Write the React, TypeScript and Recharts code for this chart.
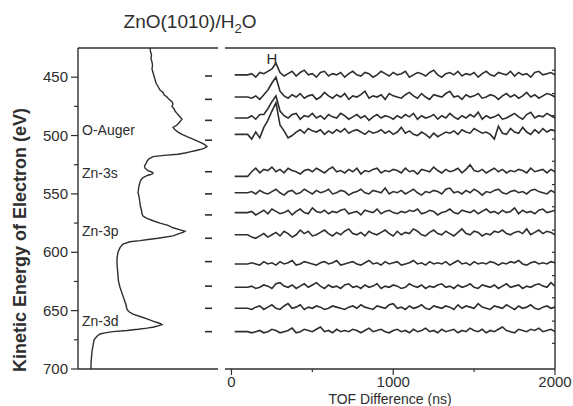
import React from 'react';
import { LineChart, Line, XAxis, YAxis, ReferenceLine, ReferenceDot } from 'recharts';

const INK = '#2e2e2e';
const FONT = '"Liberation Sans", Arial, sans-serif';

// Auger electron spectrum: kinetic energy (eV) vs. intensity (arb. units)
const SPEC_E = [
  425, 428, 431, 434, 437, 440, 443, 446, 449, 452,
  455, 458, 461, 463, 465, 467, 469, 471, 473, 475,
  477, 479, 481, 483, 485, 486, 487, 489, 491, 493,
  495, 497, 499, 501, 503, 505, 507, 508, 509.5, 511,
  512, 513, 514, 515, 516, 517, 518, 520, 522, 524,
  526, 528, 530, 531, 532, 533, 534, 536, 538, 540,
  543, 546, 549, 552, 555, 558, 561, 564, 567, 569,
  571, 573, 575, 577, 579, 581, 582, 583, 584, 586,
  588, 589, 590, 591, 593, 596, 600, 605, 610, 615,
  620, 625, 630, 635, 640, 645, 649, 651, 653, 655,
  657, 659, 661, 662, 663, 664, 665, 666, 667, 668,
  669, 670, 672, 675, 680, 685, 690, 695, 700,
];
const SPEC_I = [
  72, 72.5, 73.5, 73, 74, 74.5, 74, 75, 76, 77,
  78, 80, 82, 85, 86, 89, 91, 94, 95, 94,
  96, 97, 99, 101, 103, 104, 103, 101, 99, 95,
  97, 100, 104, 109, 115, 120, 125, 127, 129, 126,
  122, 117, 112, 107, 100, 86, 75, 71, 69, 68,
  66.5, 67, 70, 73, 75, 74, 70, 65, 63, 62,
  61, 60.5, 60, 61, 61.5, 62, 62.5, 63.5, 64, 65,
  69, 75, 82, 90, 95, 103, 107, 105, 101, 95,
  80, 70, 62, 52, 45, 42, 40, 39, 39, 39.5,
  40, 40.5, 42, 44, 46, 48, 49, 51, 55, 62,
  69, 75, 82, 84, 80, 76, 69, 60, 49, 35,
  27, 22, 19, 16, 15, 14, 13.5, 13, 13,
];

const PEAK_LABELS = ['O-Auger', 'Zn-3s', 'Zn-3p', 'Zn-3d'];
const PEAK_LABEL_E = [495, 532, 582, 659];

// energies selected for the coincidence measurements
const TRACE_E = [449, 469, 487, 504, 531, 550, 568, 588, 608, 629, 648, 668];
// vertical offsets of the TOF traces (eV scale)
const TRACE_BASE = [448, 467, 485, 499, 531, 549, 566, 585, 610, 630, 648, 668];

// TOF difference (ns)
const TOF = [
  20, 100, 125, 150, 175, 200, 225, 250, 275, 300,
  325, 350, 375, 400, 425, 450, 475, 500, 525, 550,
  575, 600, 625, 650, 675, 700, 725, 750, 775, 800,
  825, 850, 875, 900, 925, 950, 975, 1000, 1025, 1050,
  1075, 1100, 1125, 1150, 1175, 1200, 1225, 1250, 1275, 1300,
  1325, 1350, 1375, 1400, 1425, 1450, 1475, 1500, 1525, 1550,
  1575, 1600, 1625, 1650, 1675, 1700, 1725, 1750, 1775, 1800,
  1825, 1850, 1875, 1900, 1925, 1950, 1975, 2000,
];

const TRACE_1 = [
  0, 0, 1, -2, 2, 1, 3, 5, 10, 2,
  -1, 1, 3, -1, 2, 4, 0, 1, -2, 2,
  3, -1, 1, 0, 2, -2, 1, 3, 0, -1,
  2, 1, -2, 0, 3, 1, -1, 2, 0, 1,
  3, -2, 0, 2, 1, -1, 2, 4, 0, -2,
  1, 2, 0, 3, -1, 1, 0, 2, -2, 1,
  3, 0, -1, 2, 1, 0, 3, -1, 2, 0,
  1, -2, 2, 3, 0, 1, 2, 0,
];
const TRACE_2 = [
  0, 0, -1, 1, -2, 2, 6, 12, 17, 5,
  1, -1, 2, 0, 3, -1, 1, 2, -2, 0,
  4, 1, -1, 2, 0, 3, -2, 1, 0, 2,
  5, -1, 1, 0, 2, -2, 3, 1, 0, -1,
  2, 4, 1, -1, 3, 0, -2, 2, 1, 0,
  3, 5, 0, 1, -2, 2, 0, 1, 3, -1,
  0, 2, 1, -2, 1, 3, 0, 2, -1, 1,
  4, 0, 2, -1, 1, 3, 2, 0,
];
const TRACE_3 = [
  0, 0, 2, -1, 3, 3, 8, 14, 19, 6,
  2, 0, 3, 4, -1, 2, 1, 4, 0, 2,
  -1, 3, 1, 0, 4, 2, -1, 1, 3, 0,
  2, -2, 1, 3, 0, 2, 1, -1, 2, 0,
  3, 1, 4, -1, 2, 0, 1, 3, -1, 2,
  0, 4, 1, -1, 2, 0, 3, 1, 5, -1,
  2, 0, 1, 3, -1, 0, 2, 4, 1, -1,
  3, 5, 0, 2, 1, 4, 2, 0,
];
const TRACE_4 = [
  0, 0, -4, 2, -3, 6, 12, 20, 27, 8,
  3, -3, -1, 2, 4, 1, 5, 3, 2, 4,
  0, 3, 1, 4, 2, 5, 1, 3, 4, 2,
  0, 3, 1, 2, 4, 1, 3, 0, 2, 6,
  1, 3, 0, -1, 2, 0, -3, 1, -2, 0,
  2, 1, 3, 0, 4, 2, 1, 5, 3, 1,
  2, 0, -4, 7, 1, 0, 5, 2, 1, 6,
  2, 0, 4, 1, 5, 2, 4, 3,
];
const TRACE_5 = [
  -4, -4, 0, 3, -1, 2, 1, 4, 0, 2,
  -1, 3, 1, 0, -2, 1, 2, 0, 3, 1,
  -1, 2, 4, 0, 1, -1, 2, 0, 3, -2,
  1, 0, 2, 3, -1, 1, 0, 2, 1, -1,
  3, 0, 1, -2, 2, 1, 0, 4, 1, -1,
  2, 0, 1, 3, -1, 2, 6, 1, 0, 2,
  -1, 1, 3, 0, 2, -1, 1, 0, 2, 1,
  -1, 3, 0, 1, 2, -1, 2, 0,
];
const TRACE_6 = [
  0, 0, 1, -1, 2, 0, -1, 1, 3, 0,
  -2, 1, 2, -1, 0, 3, 1, -1, 2, 0,
  1, 3, -1, 0, 2, 1, -2, 0, 1, 3,
  0, -1, 2, 1, 0, 4, -1, 1, 0, 2,
  -1, 1, 3, 0, -2, 1, 0, 2, 1, -1,
  3, 4, 0, 1, -1, 2, 0, 3, 1, -2,
  1, 0, 2, 3, 0, -1, 1, 2, 0, 1,
  -1, 2, 3, 1, 0, -1, 2, 0,
];
const TRACE_7 = [
  0, 0, 1, -2, 0, 2, -1, 3, 1, -1,
  0, 2, -2, 1, 3, 0, -1, 4, 1, 0,
  2, -1, 1, 0, 2, 3, -1, 0, 1, -2,
  2, 1, 0, 3, -1, 1, 2, 0, -1, 1,
  0, 2, 1, 3, -1, 0, 2, 1, -2, 0,
  1, 3, 0, -1, 2, 1, 0, 2, -1, 1,
  3, 0, 1, -1, 2, 0, 1, 4, -1, 2,
  0, 1, -1, 2, 3, 0, 1, 2,
];
const TRACE_8 = [
  0, 0, -2, -3, -1, 1, -2, 0, 2, -1,
  3, 1, -2, 0, 4, 1, 3, -1, 0, 2,
  4, 1, -1, 2, 0, 3, 5, 1, 0, 2,
  -1, 3, 1, 0, 2, 4, 1, -1, 3, 0,
  2, 1, 5, 3, 0, -1, 2, 4, 1, 0,
  3, 1, -1, 2, 5, 1, 0, 3, 2, -1,
  1, 0, 3, 2, 4, 1, 0, 2, 3, 1,
  5, 0, 2, 4, 1, 3, 2, 0,
];
const TRACE_9 = [
  0, 0, 1, 0, -1, 2, 0, 1, -1, 2,
  0, 1, 3, -1, 0, 2, 1, 0, -1, 1,
  2, 0, 1, 3, -1, 0, 1, 2, 0, -1,
  1, 3, 0, 1, -1, 2, 0, 1, 2, -1,
  0, 1, 3, 0, 1, -1, 2, 0, 1, 0,
  2, -1, 1, 3, 0, 1, -1, 2, 0, 1,
  0, 2, 1, -1, 1, 0, 2, 1, 3, 0,
  -1, 1, 2, 0, 1, 0, 2, 1,
];
const TRACE_10 = [
  0, 0, 1, -1, 0, 2, 1, -1, 3, 4,
  1, 0, 2, -1, 1, 3, 0, 2, 4, 1,
  -1, 2, 0, 1, -1, 2, 3, 0, 1, -1,
  2, 0, 1, 3, -1, 1, 0, 2, 1, -1,
  0, 3, 1, 0, 2, -1, 1, 0, 2, 3,
  0, 1, -1, 2, 0, 1, 3, 0, -1, 2,
  1, 0, 2, -1, 1, 3, 0, 1, 2, -1,
  1, 0, 2, 3, 1, 0, 4, 1,
];
const TRACE_11 = [
  0, 0, -1, 1, 2, -1, 1, 3, 0, -1,
  2, 4, 0, 1, 3, -1, 1, 0, 2, 1,
  -1, 0, 2, 1, 0, -1, 1, 2, 0, 3,
  1, 0, -1, 2, 1, 0, 3, 4, 0, 1,
  -1, 2, 0, 1, 3, 0, -1, 2, 1, 0,
  2, 1, -1, 3, 0, 2, 1, 0, 4, 1,
  0, -1, 2, 1, 0, 3, 1, -1, 2, 0,
  1, 3, 0, -1, 1, 2, 0, 1,
];
const TRACE_12 = [
  0, 0, -1, 0, 1, -1, 0, 2, 1, -1,
  0, 1, 3, -1, 0, 2, 1, 0, 2, 4,
  0, 1, -1, 2, 0, 1, 0, 2, 1, -1,
  1, 3, 0, 1, 2, 0, -1, 1, 2, 0,
  1, -1, 2, 0, 1, 3, 0, 1, -1, 2,
  0, 1, 2, -1, 1, 0, 3, 1, 0, 2,
  -1, 1, 0, 2, 4, 1, 0, -1, 2, 1,
  0, 2, 1, 3, 0, 1, 2, 0,
];

const TRACES = [
  TRACE_1, TRACE_2, TRACE_3, TRACE_4, TRACE_5, TRACE_6,
  TRACE_7, TRACE_8, TRACE_9, TRACE_10, TRACE_11, TRACE_12,
];

const ENERGY_TICKS = [450, 475, 500, 525, 550, 575, 600, 625, 650, 675, 700];
const TOF_TICKS = [0, 500, 1000, 1500, 2000];
// small inward ticks on the right frame of the TOF panel
const RIGHT_TICK_E = [444, 464, 483, 503, 522, 542, 561, 581, 600, 620, 639, 659, 678];

const E_RANGE = [425, 700];
const I_RANGE = [0, 140];
const T_RANGE = [-40, 2000];

// plot boxes of the two panels (page pixels)
const PLOT_TOP = 48;
const PLOT_BOTTOM = 369;
const LEFT_X = [78, 218];
const RIGHT_X = [225, 555];
const eToY = (e: number) =>
  PLOT_TOP + ((e - E_RANGE[0]) / (E_RANGE[1] - E_RANGE[0])) * (PLOT_BOTTOM - PLOT_TOP);

const spectrum = SPEC_E.map((e, i) => ({ e, i: SPEC_I[i] }));

// each trace is drawn on the energy scale, shifted to its own baseline
const traceData = TRACES.map((vals, k) =>
  TOF.map((t, i) => ({ t, y: TRACE_BASE[k] - (vals[i] ?? 0) }))
);

const axisStyle = { stroke: INK, strokeWidth: 1.4 };

const EnergyTick = ({ x, y, payload }: any) => {
  const major = payload.value % 50 === 0;
  return (
    <g>
      <line x1={x - (major ? 7 : 4)} x2={x} y1={y} y2={y} stroke={INK} strokeWidth={1.2} />
      {major && (
        <text x={x - 10} y={y} dy={5} textAnchor="end" fontSize={15} fill={INK} fontFamily={FONT}>
          {payload.value}
        </text>
      )}
    </g>
  );
};

const TofTick = ({ x, y, payload }: any) => {
  const major = payload.value % 1000 === 0;
  return (
    <g>
      <line x1={x} x2={x} y1={y} y2={y + (major ? 6 : 3)} stroke={INK} strokeWidth={1.2} />
      {major && (
        <text x={x} y={y + 18} textAnchor="middle" fontSize={15} fill={INK} fontFamily={FONT}>
          {payload.value}
        </text>
      )}
    </g>
  );
};

export default function App() {
  return (
    <div style={{ position: 'absolute', left: 0, top: 0, width: 573, height: 406, background: '#fff' }}>
      <div style={{ position: 'absolute', left: 0, top: 0 }}>
        {/* vertical layout: the energy axis already runs top-down */}
        <LineChart
          layout="vertical"
          width={230}
          height={406}
          data={spectrum}
          margin={{ top: 48, right: 12, bottom: 37, left: 0 }}
        >
          <XAxis type="number" domain={I_RANGE} tick={false} tickLine={false} height={0} axisLine={axisStyle} />
          <YAxis
            type="number"
            dataKey="e"
            domain={E_RANGE}
            ticks={ENERGY_TICKS}
            interval={0}
            tickSize={0}
            tickMargin={0}
            tickLine={false}
            tick={<EnergyTick />}
            width={78}
            axisLine={axisStyle}
          />
          <Line
            dataKey="i"
            type="linear"
            stroke={INK}
            strokeWidth={1.4}
            dot={false}
            isAnimationActive={false}
          />
          {TRACE_E.map((e) => (
            <ReferenceLine
              key={e}
              segment={[{ x: 127, y: e }, { x: 134, y: e }]}
              stroke={INK}
              strokeWidth={1.6}
            />
          ))}
          {PEAK_LABELS.map((name, k) => (
            <ReferenceDot
              key={name}
              x={0}
              y={PEAK_LABEL_E[k]}
              r={0}
              fill="none"
              stroke="none"
              label={{ value: name, position: 'right', offset: 4, fontSize: 14, fill: INK, fontFamily: FONT }}
            />
          ))}
        </LineChart>
      </div>

      <div style={{ position: 'absolute', left: 200, top: 0 }}>
        <LineChart width={373} height={406} margin={{ top: 48, right: 18, bottom: 0, left: 25 }}>
          <XAxis
            type="number"
            dataKey="t"
            domain={T_RANGE}
            ticks={TOF_TICKS}
            interval={0}
            tickSize={0}
            tickMargin={0}
            tickLine={false}
            tick={<TofTick />}
            height={37}
            axisLine={axisStyle}
            label={{ value: 'TOF Difference (ns)', position: 'insideBottom', offset: 2, fontSize: 14, fill: INK, fontFamily: FONT }}
          />
          <YAxis type="number" domain={E_RANGE} reversed hide />
          {traceData.map((d, k) => (
            <Line
              key={k}
              data={d}
              dataKey="y"
              type="linear"
              stroke={INK}
              strokeWidth={1.6}
              strokeLinejoin="miter"
              dot={false}
              isAnimationActive={false}
            />
          ))}
          <ReferenceDot
            x={250}
            y={434}
            r={0}
            fill="none"
            stroke="none"
            label={{ value: 'H', position: 'center', fontSize: 15, fill: INK, fontFamily: FONT }}
          />
        </LineChart>
      </div>

      <svg width={573} height={406} style={{ position: 'absolute', left: 0, top: 0, pointerEvents: 'none' }}>
        {/* panel frames: broken top/bottom edges and the right edge with inward ticks */}
        <g stroke={INK} strokeWidth={1.4}>
          <line x1={LEFT_X[0]} x2={LEFT_X[1]} y1={PLOT_TOP} y2={PLOT_TOP} />
          <line x1={LEFT_X[0]} x2={LEFT_X[1]} y1={PLOT_BOTTOM} y2={PLOT_BOTTOM} />
          <line x1={RIGHT_X[0]} x2={RIGHT_X[1]} y1={PLOT_TOP} y2={PLOT_TOP} />
          <line x1={RIGHT_X[1]} x2={RIGHT_X[1]} y1={PLOT_TOP} y2={PLOT_BOTTOM} />
          {RIGHT_TICK_E.map((e) => (
            <line key={e} x1={RIGHT_X[1] - 3} x2={RIGHT_X[1]} y1={eToY(e)} y2={eToY(e)} strokeWidth={1.2} />
          ))}
        </g>
        <text x={190} y={28} textAnchor="middle" fontSize={19} fill={INK} fontFamily={FONT}>
          ZnO(1010)/H<tspan fontSize={13} dy={5}>2</tspan>
          <tspan dy={-5}>O</tspan>
        </text>
        <text
          x={26}
          y={240}
          transform="rotate(-90, 26, 240)"
          textAnchor="middle"
          fontSize={18}
          fontWeight="bold"
          fill={INK}
          fontFamily={FONT}
        >
          Kinetic Energy of Electron (eV)
        </text>
      </svg>
    </div>
  );
}
